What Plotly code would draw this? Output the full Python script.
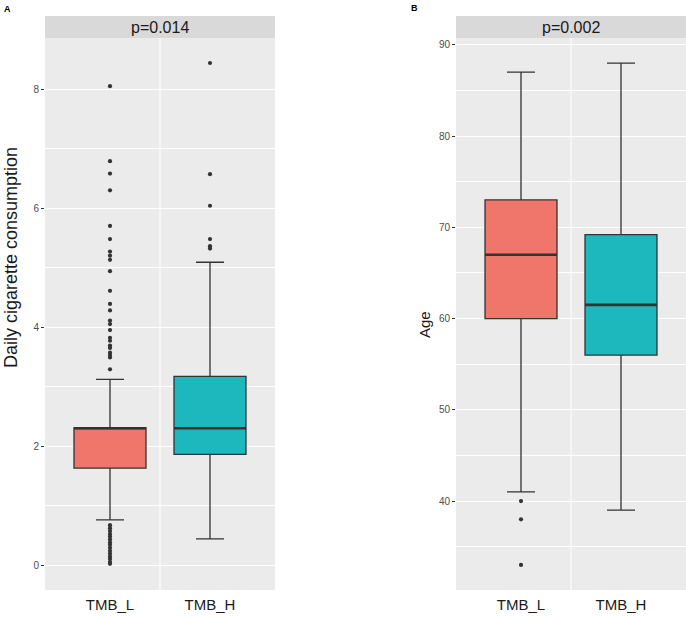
import plotly.graph_objects as go

W, H = 686, 617

groups = ["TMB_L", "TMB_H"]
colors = ["#F0756B", "#1DB8BD"]

# Panel A: Daily cigarette consumption
a_q1 = [1.63, 1.86]
a_median = [2.30, 2.30]
a_q3 = [2.31, 3.17]
a_lower = [0.76, 0.44]
a_upper = [3.12, 5.09]
a_out_L = [8.05, 6.79, 6.58, 6.30, 5.70, 5.48, 5.27, 5.20, 5.13, 4.94, 4.61, 4.39,
           4.28, 4.11, 4.05, 3.95, 3.82, 3.77, 3.69, 3.65, 3.57, 3.53, 3.49, 3.29,
           0.67, 0.62, 0.57, 0.52, 0.48, 0.43, 0.38, 0.34, 0.29, 0.24, 0.19, 0.14,
           0.10, 0.05, 0.02]
a_out_H = [8.44, 6.57, 6.04, 5.48, 5.36, 5.32]
a_p = "p=0.014"

# Panel B: Age
b_q1 = [60.0, 56.0]
b_median = [67.0, 61.5]
b_q3 = [73.0, 69.2]
b_lower = [41.0, 39.0]
b_upper = [87.0, 88.0]
b_out_L = [40.0, 38.0, 33.0]
b_out_H = []
b_p = "p=0.002"

FONT = "Liberation Sans, Arial, sans-serif"
BOXW = 0.72

fig = go.Figure()

def add_panel(xa, ya, q1, med, q3, lo, up, outs):
    for i, g in enumerate(groups):
        fig.add_trace(go.Box(
            x=[g], q1=[q1[i]], median=[med[i]], q3=[q3[i]],
            lowerfence=[lo[i]], upperfence=[up[i]],
            fillcolor=colors[i], line=dict(color="#333333", width=1.3),
            width=BOXW, whiskerwidth=0.39, boxpoints=False,
            xaxis=xa, yaxis=ya, showlegend=False, hoverinfo="skip"))
        # thick median
        fig.add_trace(go.Box(
            x=[g], q1=[med[i]], median=[med[i]], q3=[med[i]],
            lowerfence=[med[i]], upperfence=[med[i]],
            fillcolor="rgba(0,0,0,0)", line=dict(color="#333333", width=2.6),
            width=BOXW, whiskerwidth=0, boxpoints=False,
            xaxis=xa, yaxis=ya, showlegend=False, hoverinfo="skip"))
        if outs[i]:
            fig.add_trace(go.Scatter(
                x=[g] * len(outs[i]), y=outs[i], mode="markers",
                marker=dict(color="#333333", size=4.2),
                xaxis=xa, yaxis=ya, showlegend=False, hoverinfo="skip"))

add_panel("x", "y", a_q1, a_median, a_q3, a_lower, a_upper, [a_out_L, a_out_H])
add_panel("x2", "y2", b_q1, b_median, b_q3, b_lower, b_upper, [b_out_L, b_out_H])

ybot = (H - 590) / H
ytop = (H - 38) / H
stop = (H - 16) / H
dA = [45 / W, 275 / W]
dB = [456 / W, 686 / W]

xcommon = dict(type="category", categoryorder="array", categoryarray=groups,
               range=[-0.65, 1.65], showgrid=False, zeroline=False, showline=False,
               ticks="outside", ticklen=1, tickcolor="rgba(0,0,0,0)",
               tickfont=dict(family=FONT, size=15, color="#1A1A1A"))
ycommon = dict(showgrid=True, gridcolor="white", gridwidth=1.1, zeroline=False,
               showline=False, ticks="outside", ticklen=3, tickwidth=1,
               tickcolor="#333333", tickfont=dict(family=FONT, size=10, color="#4D4D4D"))

fig.update_layout(
    width=W, height=H, margin=dict(l=0, r=0, t=0, b=0),
    paper_bgcolor="white", plot_bgcolor="#EBEBEB",
    xaxis=dict(domain=dA, anchor="y", **xcommon),
    xaxis2=dict(domain=dB, anchor="y2", **xcommon),
    yaxis=dict(domain=[ybot, ytop], anchor="x", range=[-0.42, 8.86],
               tick0=0, dtick=2,
               minor=dict(dtick=1, tick0=0, showgrid=True, gridcolor="white", gridwidth=0.5, ticks=""),
               **ycommon),
    yaxis2=dict(domain=[ybot, ytop], anchor="x2", range=[30.25, 90.75],
                tick0=0, dtick=10,
                minor=dict(dtick=5, tick0=0, showgrid=True, gridcolor="white", gridwidth=0.5, ticks=""),
                **ycommon),
)

shapes = []
annotations = []
for xr, dom, ptxt in [("x", dA, a_p), ("x2", dB, b_p)]:
    shapes.append(dict(type="line", xref=xr, yref=("y" if xr == "x" else "y2") + " domain",
                       x0=0.5, x1=0.5, y0=0, y1=1, line=dict(color="white", width=1.1),
                       layer="below"))
    shapes.append(dict(type="rect", xref="paper", yref="paper", x0=dom[0], x1=dom[1],
                       y0=ytop, y1=stop, fillcolor="#D9D9D9", line=dict(width=0), layer="below"))
    annotations.append(dict(text=ptxt, xref="paper", yref="paper", x=(dom[0] + dom[1]) / 2,
                            y=(ytop + stop) / 2, showarrow=False,
                            font=dict(family=FONT, size=16, color="#1A1A1A"),
                            xanchor="center", yanchor="middle"))

annotations.append(dict(text="Daily cigarette consumption", xref="paper", yref="paper",
                        x=11 / W, y=1 - 258 / H, textangle=-90, showarrow=False,
                        font=dict(family=FONT, size=18, color="#1A1A1A"),
                        xanchor="center", yanchor="middle"))
annotations.append(dict(text="Age", xref="paper", yref="paper",
                        x=424 / W, y=1 - 325 / H, textangle=-90, showarrow=False,
                        font=dict(family=FONT, size=15, color="#1A1A1A"),
                        xanchor="center", yanchor="middle"))
annotations.append(dict(text="<b>A</b>", xref="paper", yref="paper", x=2 / W, y=1 - 2 / H,
                        showarrow=False, font=dict(family=FONT, size=9, color="black"),
                        xanchor="left", yanchor="top"))
annotations.append(dict(text="<b>B</b>", xref="paper", yref="paper", x=409 / W, y=1 - 1 / H,
                        showarrow=False, font=dict(family=FONT, size=9, color="black"),
                        xanchor="left", yanchor="top"))

fig.update_layout(shapes=shapes, annotations=annotations)
fig.write_html("out.html", config={"displayModeBar": False},
               post_script="document.body.style.margin='0px';")
